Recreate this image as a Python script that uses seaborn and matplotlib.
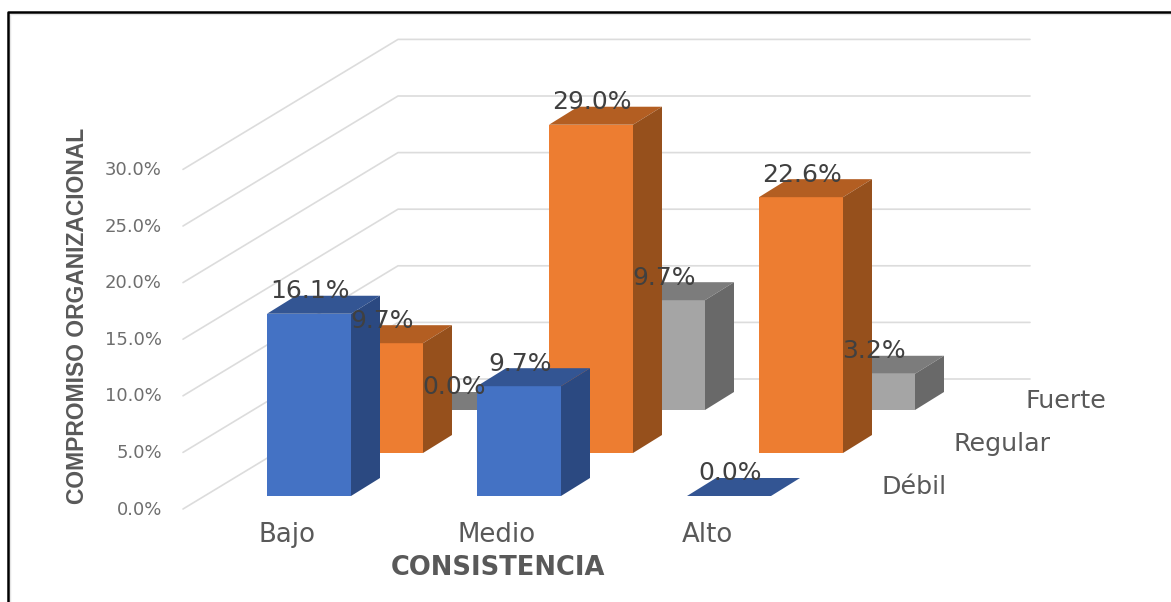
import matplotlib
matplotlib.use("Agg")
import matplotlib.pyplot as plt
from matplotlib.lines import Line2D
import pandas as pd
import seaborn as sns

categories = ["Bajo", "Medio", "Alto"]
series_names = ["Débil", "Regular", "Fuerte"]
debil = [16.1, 9.7, 0.0]
regular = [9.7, 29.0, 22.6]
fuerte = [0.0, 9.7, 3.2]
y_ticks = [0, 5, 10, 15, 20, 25, 30]

values = [debil, regular, fuerte]
front = ["#4472C4", "#ED7D31", "#A5A5A5"]
side = ["#2B4981", "#96501C", "#696969"]
top = ["#335593", "#B35E22", "#7C7C7C"]
TXT = "#595959"
LBL = "#404040"

W, H = 1171, 602
PX_X, PX_Y = 210.0, 11.32      # pixels per category / per percent
X0, Y0 = 309, 496              # pixel of category 0, value 0, front row
SX, SY = 72 / PX_X, 43 / PX_Y  # shift of one row in depth
BW = 84 / PX_X
DX, DY = 29 / PX_X, 18 / PX_Y  # bar depth

sns.set_theme(style="white")
plt.rcParams["font.family"] = ["DejaVu Sans"]
fig = plt.figure(figsize=(W / 100, H / 100), dpi=100, facecolor="white")
ax = fig.add_axes([0, 0, 1, 1])

# walls
wx0, wy0 = (183 - X0) / PX_X, (Y0 - 509) / PX_Y
wx1, wy1 = (398 - X0) / PX_X, (Y0 - 379) / PX_Y
wx2 = (1030 - X0) / PX_X
for v in y_ticks:
    ax.plot([wx0, wx1, wx2], [v + wy0, v + wy1, v + wy1], color="#DCDCDC", lw=1.2, zorder=1)
    ax.text(wx0 - 0.10, v + wy0 - 0.05, f"{v:.1f}%", ha="right", va="center", fontsize=13, color="#6E6E6E")

# bars, back row first
for s in [2, 1, 0]:
    z = 5 - s
    xs = [i + s * SX for i in range(len(categories))]
    base = s * SY
    df = pd.DataFrame({"x": xs, "y": values[s]})
    sns.barplot(data=df, x="x", y="y", native_scale=True, width=BW, bottom=base,
                color=front[s], saturation=1, errorbar=None, zorder=z, ax=ax,
                linewidth=0)
    for x, v in zip(xs, values[s]):
        l, r = x - BW / 2, x + BW / 2
        t = base + v
        ax.fill([l, r, r + DX, l + DX], [t, t, t + DY, t + DY], color=top[s], lw=0, zorder=z)
        if v > 0:
            ax.fill([r, r + DX, r + DX, r], [base, base + DY, t + DY, t], color=side[s], lw=0, zorder=z)

# data labels
for s in range(3):
    for i, v in enumerate(values[s]):
        ax.text(i + s * SX + 0.005, v + s * SY + 2.0, f"{v:.1f}%", ha="center", va="center",
                fontsize=18, color=LBL, zorder=10)

# category and depth labels
for i, c in enumerate(categories):
    ax.text(i - 0.105, -3.47, c, ha="center", va="center", fontsize=18.7, color=TXT)
for s, n in enumerate(series_names):
    ax.text((882 - X0) / PX_X + s * SX, 0.8 + s * SY, n, ha="left", va="center",
            fontsize=18.3, color=TXT)

ax.text((498 - X0) / PX_X, (Y0 - 568) / PX_Y, "CONSISTENCIA", ha="center", va="center",
        fontsize=18.5, fontweight="bold", color=TXT)
ax.text((78 - X0) / PX_X, (Y0 - 316) / PX_Y, "COMPROMISO ORGANIZACIONAL", rotation=90,
        ha="center", va="center", fontsize=16.5, fontweight="bold",
        family="Liberation Sans", color=TXT)

ax.set_xlim(-X0 / PX_X, (W - X0) / PX_X)
ax.set_ylim((Y0 - H) / PX_Y, Y0 / PX_Y)
ax.set_axis_off()

# outer frame of the pasted picture
fx = lambda p: p / W
fy = lambda p: 1 - p / H
fig.add_artist(Line2D([fx(10), fx(10), fx(W)], [fy(H), fy(14), fy(14)], color="#E4E4E4", lw=1.0))
fig.add_artist(Line2D([fx(7.5), fx(7.5), fx(W)], [fy(H), fy(11.5), fy(11.5)], color="black", lw=1.8))

fig.savefig("out.png", dpi=100)
